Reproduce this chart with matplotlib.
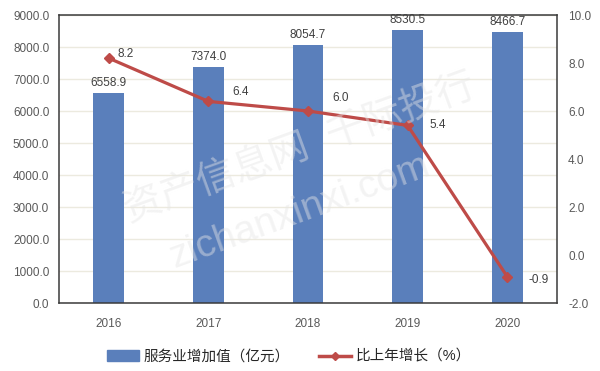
import matplotlib
matplotlib.use('Agg')
import matplotlib.pyplot as plt
from matplotlib.patches import Patch
from matplotlib.lines import Line2D

plt.rcParams['font.family'] = ['Liberation Sans', 'Noto Sans CJK SC', 'DejaVu Sans']

# data
years = ['2016', '2017', '2018', '2019', '2020']
added_value = [6558.9, 7374.0, 8054.7, 8530.5, 8466.7]   # 亿元
growth = [8.2, 6.4, 6.0, 5.4, -0.9]                      # %
# label offsets (pixels) for the growth labels
growth_off = [(9, 4), (24, 9), (24, 13), (22, 0), (21, -3)]

bar_color = '#5A7FBB'
line_color = '#BE4B48'
txt_color = '#595959'

fig = plt.figure(figsize=(6, 3.71), dpi=100)
ax = fig.add_axes([59/600, 1-303/371, 498/600, 288/371])

x = range(len(years))
ax.bar(x, added_value, width=0.31, color=bar_color, zorder=2)
for i, v in enumerate(added_value):
    ax.annotate('{0:.1f}'.format(v), (i, v), xytext=(0, 3), textcoords='offset points',
                ha='center', va='bottom', fontsize=8.5, color='#404040')

ax.set_xlim(-0.5, len(years) - 0.5)
ax.set_ylim(0, 9000)
ax.set_yticks(range(0, 9001, 1000))
ax.set_yticklabels(['{0:.1f}'.format(v) for v in range(0, 9001, 1000)])
ax.set_xticks(list(x))
ax.set_xticklabels(years)
ax.grid(axis='y', color='#ECEADF', linewidth=1, zorder=0)
ax.set_axisbelow(True)
ax.tick_params(axis='y', length=0, pad=7, labelsize=8.5, labelcolor=txt_color)
ax.tick_params(axis='x', length=0, pad=11, labelsize=8.5, labelcolor=txt_color)
for s in ax.spines.values():
    s.set_color('#3A3A3A')
    s.set_linewidth(1.1)

ax2 = ax.twinx()
ax2.plot(list(x), growth, color=line_color, linewidth=2.3, marker='D', markersize=5,
         zorder=3)
for i, v in enumerate(growth):
    dx, dy = growth_off[i]
    ax2.annotate('{0:.1f}'.format(v), (i, v), xytext=(dx * 0.72, dy * 0.72),
                 textcoords='offset points', ha='left', va='center',
                 fontsize=8.5, color='#404040')
ax2.set_ylim(-2, 10)
ax2.set_yticks(range(-2, 11, 2))
ax2.set_yticklabels(['{0:.1f}'.format(v) for v in range(-2, 11, 2)])
ax2.tick_params(axis='y', length=0, pad=8, labelsize=8.5, labelcolor=txt_color)
for s in ax2.spines.values():
    s.set_visible(False)

# watermark
fig.text(0.5, 0.6, '资产信息网  千际投行', fontsize=28, color='#E6E6E6', alpha=0.45,
         rotation=20, ha='center', va='center')
fig.text(0.5, 0.43, 'zichanxinxi.com', fontsize=28, color='#E6E6E6', alpha=0.45,
         rotation=20, ha='center', va='center')

handles = [Patch(facecolor=bar_color, edgecolor=bar_color),
           Line2D([0], [0], color=line_color, linewidth=2.5, marker='D', markersize=4)]
fig.legend(handles, ['服务业增加值（亿元）', '比上年增长（%）'], loc='center',
           bbox_to_anchor=(0.482, 0.038), ncol=2, frameon=False, fontsize=10.5,
           handlelength=2.2, handleheight=0.75, columnspacing=2.0, handletextpad=0.3,
           labelcolor='#262626')

fig.savefig('out.png', dpi=100)
